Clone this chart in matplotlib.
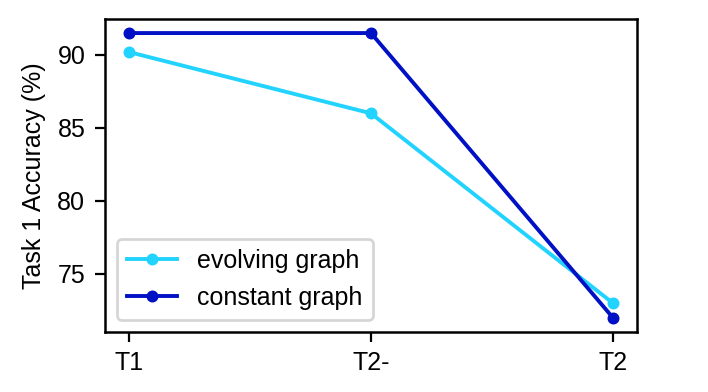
import matplotlib
matplotlib.use("Agg")
import matplotlib.pyplot as plt

plt.rcParams['font.family'] = ['Liberation Sans', 'DejaVu Sans']
plt.rcParams['font.size'] = 9
plt.rcParams['axes.linewidth'] = 0.9

stages = ["T1", "T2-", "T2"]
evolving = [90.2, 86.0, 73.0]
constant = [91.5, 91.5, 72.0]

fig = plt.figure(figsize=(3.54, 1.96), dpi=200)
ax = fig.add_axes([0.148, 0.153, 0.752, 0.799])

ax.plot(stages, evolving, marker='o', markersize=3.3, linewidth=1.4,
        color='#22D3FF', label='evolving graph')
ax.plot(stages, constant, marker='o', markersize=3.3, linewidth=1.4,
        color='#0010C4', label='constant graph')

ax.set_ylabel("Task 1 Accuracy (%)")
ax.set_yticks([75, 80, 85, 90])
ax.legend(loc='lower left')

fig.savefig("out.png", dpi=200)
